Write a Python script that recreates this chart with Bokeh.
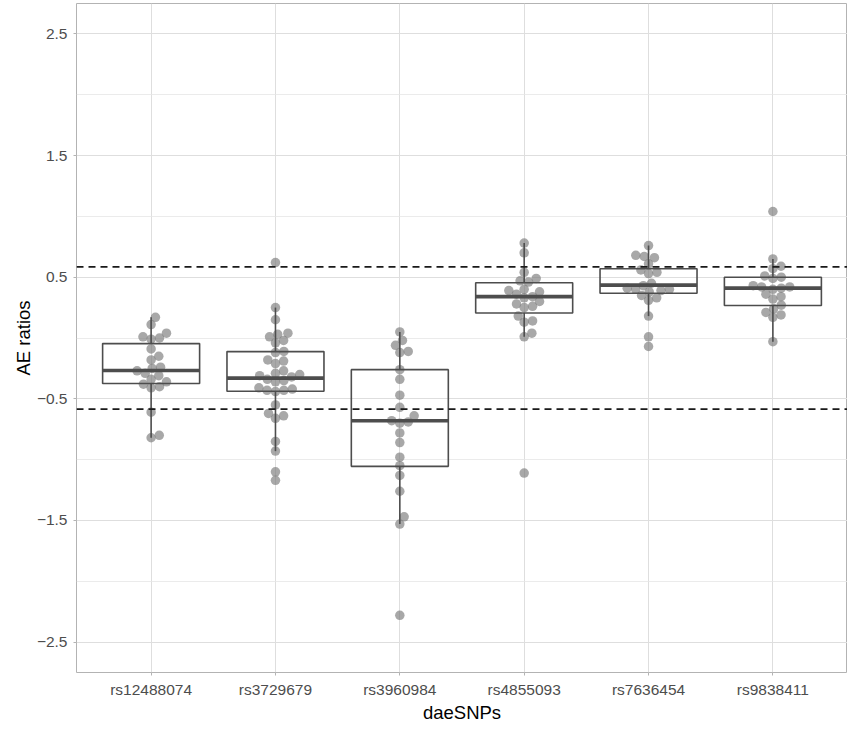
import numpy as np
from bokeh.plotting import figure
from bokeh.models import FixedTicker, Range1d, Span, CustomJSTickFormatter, ColumnDataSource
from bokeh.embed import file_html
from bokeh.resources import INLINE

# ---------------- data ----------------
snps = ["rs12488074", "rs3729679", "rs3960984", "rs4855093", "rs7636454", "rs9838411"]

ae_rs12488074 = [0.17, 0.11, 0.04, 0.01, 0.0, -0.01, -0.09, -0.15, -0.18, -0.24, -0.25,
                 -0.27, -0.29, -0.31, -0.34, -0.36, -0.38, -0.40, -0.41, -0.61, -0.80, -0.82]
ae_rs3729679 = [0.62, 0.25, 0.15, 0.04, 0.03, 0.01, -0.02, -0.04, -0.11, -0.12, -0.18, -0.19,
                -0.21, -0.27, -0.29, -0.30, -0.31, -0.32, -0.34, -0.35, -0.36, -0.41, -0.42,
                -0.43, -0.43, -0.44, -0.55, -0.62, -0.64, -0.66, -0.85, -0.93, -1.10, -1.17]
ae_rs3960984 = [0.05, -0.02, -0.06, -0.11, -0.12, -0.26, -0.34, -0.47, -0.57, -0.64, -0.68,
                -0.69, -0.70, -0.78, -0.86, -0.98, -1.05, -1.13, -1.26, -1.47, -1.53, -2.28]
ae_rs4855093 = [0.78, 0.70, 0.54, 0.49, 0.47, 0.46, 0.40, 0.39, 0.38, 0.36, 0.34, 0.33,
                0.30, 0.28, 0.26, 0.25, 0.18, 0.14, 0.13, 0.04, 0.01, -1.11]
ae_rs7636454 = [0.76, 0.68, 0.67, 0.66, 0.61, 0.56, 0.54, 0.53, 0.45, 0.43, 0.41, 0.40,
                0.40, 0.39, 0.38, 0.35, 0.33, 0.31, 0.18, 0.01, -0.07]
ae_rs9838411 = [1.04, 0.65, 0.59, 0.57, 0.51, 0.50, 0.49, 0.43, 0.42, 0.42, 0.41, 0.40,
                0.36, 0.34, 0.32, 0.27, 0.24, 0.21, 0.19, 0.17, -0.03]

box_q1 = [-0.374, -0.438, -1.055, 0.206, 0.368, 0.267]
box_median = [-0.267, -0.330, -0.680, 0.340, 0.435, 0.410]
box_q3 = [-0.046, -0.112, -0.260, 0.454, 0.569, 0.500]
whisker_low = [-0.82, -0.93, -1.53, 0.01, 0.18, -0.03]
whisker_high = [0.17, 0.25, 0.05, 0.78, 0.76, 0.65]

threshold = 0.585
y_ticks = [-2.5, -1.5, -0.5, 0.5, 1.5, 2.5]
y_minor = [-2, -1, 0, 1, 2]

groups = [ae_rs12488074, ae_rs3729679, ae_rs3960984, ae_rs4855093, ae_rs7636454, ae_rs9838411]

# ---------------- layout ----------------
W, H = 847, 725
BL, BB, BT = 76, 51, 3
FW, FH = W - BL, H - BB - BT
X0, X1 = 0.4, 6.6
Y0, Y1 = -2.75, 2.75
px_x = FW / (X1 - X0)
px_y = FH / (Y1 - Y0)
SPACING = 8.5  # px between point centres in the swarm


def swarm(vals):
    """Beeswarm offsets (data units in x) for a list of y values."""
    order = np.argsort(vals)
    placed = []  # (xpx, ypx)
    offs = np.zeros(len(vals))
    for idx in order:
        ypx = vals[idx] * px_y
        cands = [0.0]
        near = [(xp, yp) for xp, yp in placed if abs(yp - ypx) < SPACING]
        for xp, yp in near:
            dx = np.sqrt(SPACING ** 2 - (yp - ypx) ** 2)
            cands += [xp + dx, xp - dx]
        cands.sort(key=lambda c: (abs(c), -c))
        chosen = 0.0
        for c in cands:
            ok = all((c - xp) ** 2 + (yp - ypx) ** 2 >= SPACING ** 2 - 1e-6 for xp, yp in near)
            if ok:
                chosen = c
                break
        placed.append((chosen, ypx))
        offs[idx] = chosen / px_x
    return offs


xs, ys = [], []
for i, g in enumerate(groups):
    o = swarm(g)
    xs += list(i + 1 + o)
    ys += list(g)

p = figure(width=W, height=H, output_backend="svg", toolbar_location=None,
           x_range=Range1d(X0, X1), y_range=Range1d(Y0, Y1),
           min_border_left=BL, min_border_right=0, min_border_top=BT, min_border_bottom=BB,
           background_fill_color="white", border_fill_color="white")

p.outline_line_color = "#B3B3B3"
p.outline_line_width = 1

# grids
p.xgrid.ticker = FixedTicker(ticks=list(range(1, 7)))
p.ygrid.ticker = FixedTicker(ticks=y_ticks, minor_ticks=y_minor)
for g in (p.xgrid, p.ygrid):
    g.grid_line_color = "#DEDEDE"
    g.grid_line_width = 1
p.ygrid.minor_grid_line_color = "#E6E6E6"
p.ygrid.minor_grid_line_width = 0.8

# points
p.scatter(xs, ys, size=9.5, fill_color="#7F7F7F", fill_alpha=0.68, line_color=None)

# boxplots
cx = np.arange(1, 7)
hw = 0.39
bsrc = ColumnDataSource(dict(x=cx, l=cx - hw, r=cx + hw, q1=box_q1, q3=box_q3, med=box_median,
                             lo=whisker_low, hi=whisker_high))
BC = "#4D4D4D"
p.segment(x0="x", x1="x", y0="q3", y1="hi", source=bsrc, line_color=BC, line_width=1.6)
p.segment(x0="x", x1="x", y0="q1", y1="lo", source=bsrc, line_color=BC, line_width=1.6)
p.quad(left="l", right="r", bottom="q1", top="q3", source=bsrc, fill_color=None,
       line_color=BC, line_width=1.6)
p.segment(x0="l", x1="r", y0="med", y1="med", source=bsrc, line_color=BC, line_width=3.6)

for yv in (threshold, -threshold):
    p.add_layout(Span(location=yv, dimension="width", line_color="#1A1A1A",
                      line_width=1.6, line_dash="7 5"))

# axes
FONT = "Liberation Sans"
p.xaxis.ticker = FixedTicker(ticks=list(range(1, 7)))
p.xaxis.major_label_overrides = {i + 1: s for i, s in enumerate(snps)}
p.yaxis.ticker = FixedTicker(ticks=y_ticks)
p.yaxis.formatter = CustomJSTickFormatter(code="return tick.toFixed(1).replace('-', '\\u2212');")
for ax in (p.xaxis, p.yaxis):
    ax.axis_line_color = None
    ax.major_tick_line_color = "#B3B3B3"
    ax.major_tick_out = 3
    ax.major_tick_in = 0
    ax.minor_tick_line_color = None
    ax.major_label_text_font = FONT
    ax.major_label_text_font_size = "15.5px"
    ax.major_label_text_color = "#4D4D4D"
    ax.axis_label_text_font = FONT
    ax.axis_label_text_font_size = "18.5px"
    ax.axis_label_text_font_style = "normal"
    ax.axis_label_text_color = "#000000"
p.xaxis.axis_label = "daeSNPs"
p.yaxis.axis_label = "AE ratios"
p.xaxis.major_label_standoff = 5
p.yaxis.major_label_standoff = 6
p.xaxis.axis_label_standoff = 1
p.yaxis.axis_label_standoff = 0

open("out.html", "w").write(file_html(p, INLINE))
